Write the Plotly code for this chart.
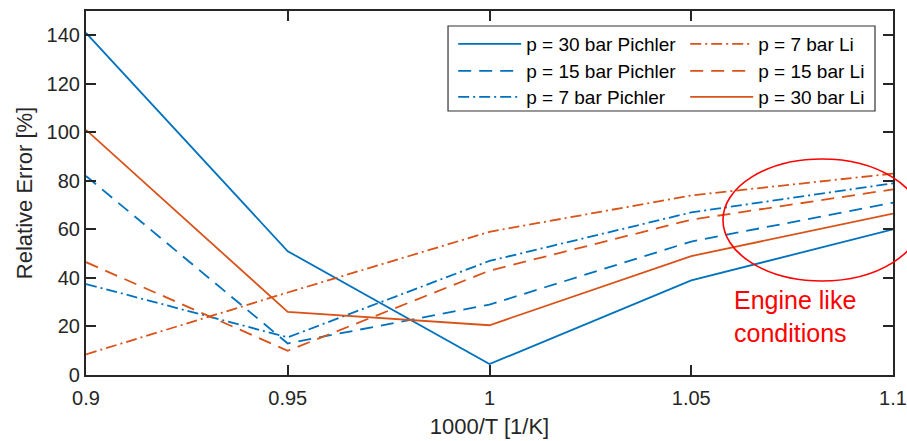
import plotly.graph_objects as go

x_vals = [0.9, 0.95, 1.0, 1.05, 1.1]

pichler_30 = [141, 51, 4.5, 39, 60]
pichler_15 = [82, 13, 29, 55, 71]
pichler_7 = [37.5, 15.5, 47, 67, 79]
li_7 = [8.5, 34, 59, 74, 83]
li_15 = [46.5, 10, 43, 64, 76.5]
li_30 = [101, 26, 20.5, 49, 66.5]

BLUE = "#0072BD"
ORANGE = "#D95319"
AX = "#262626"
FONT = "Liberation Sans, Arial, sans-serif"

DASH = "13px,8px"
DASHDOT = "11px,4px,2px,4px"

series = [
    ("p = 30 bar Pichler", pichler_30, BLUE, "solid", "legend"),
    ("p = 15 bar Pichler", pichler_15, BLUE, DASH, "legend2"),
    ("p = 7 bar Pichler", pichler_7, BLUE, DASHDOT, "legend3"),
    ("p = 7 bar Li", li_7, ORANGE, DASHDOT, "legend4"),
    ("p = 15 bar Li", li_15, ORANGE, DASH, "legend5"),
    ("p = 30 bar Li", li_30, ORANGE, "solid", "legend6"),
]

fig = go.Figure()
for name, ys, col, dash, lg in series:
    fig.add_trace(go.Scatter(x=x_vals, y=ys, name=name, mode="lines", legend=lg,
                             line=dict(color=col, width=1.8, dash=dash)))

axis_common = dict(
    showline=True, linecolor=AX, linewidth=2.2, mirror="ticks",
    ticks="inside", ticklen=10, tickwidth=2, tickcolor=AX,
    showgrid=False, zeroline=False, automargin=False,
    tickfont=dict(family=FONT, size=20, color=AX),
)

fig.update_xaxes(range=[0.9, 1.1], dtick=0.05, tick0=0.9, ticklabelstandoff=4,
                 title=dict(text="1000/T [1/K]", font=dict(family=FONT, size=22, color=AX), standoff=11),
                 **axis_common)
fig.update_yaxes(range=[0, 150], dtick=20, tick0=0,
                 title=dict(text="Relative Error [%]", font=dict(family=FONT, size=22, color=AX), standoff=8),
                 **axis_common)

# legend box
fig.add_shape(type="rect", xref="paper", yref="paper", x0=0.4486, x1=0.9777, y0=0.7253, y1=0.9588,
              line=dict(color="#333333", width=1.2), fillcolor="white", layer="above")

# ellipse marking engine-like conditions
fig.add_shape(type="circle", xref="paper", yref="paper", x0=0.7893, x1=1.0347, y0=0.2582, y1=0.5934,
              line=dict(color="#FF0000", width=1.6), layer="above")

fig.add_annotation(x=1.0601, y=24, xref="x", yref="y", text="Engine like<br>conditions",
                   showarrow=False, xanchor="left", yanchor="middle", align="left",
                   font=dict(family=FONT, size=25, color="#FF0000"))

legend_common = dict(xanchor="left", yanchor="top", bgcolor="rgba(0,0,0,0)", borderwidth=0,
                     font=dict(family=FONT, size=19, color="black"), itemwidth=63,
                     tracegroupgap=0, orientation="v")

row_y = [0.9615, 0.8874, 0.816]
col_x = [0.455, 0.7425]

fig.update_layout(
    width=907, height=441,
    margin=dict(l=86, r=14, t=11, b=66),
    plot_bgcolor="white", paper_bgcolor="white",
    showlegend=True,
    legend=dict(x=col_x[0], y=row_y[0], **legend_common),
    legend2=dict(x=col_x[0], y=row_y[1], **legend_common),
    legend3=dict(x=col_x[0], y=row_y[2], **legend_common),
    legend4=dict(x=col_x[1], y=row_y[0], **legend_common),
    legend5=dict(x=col_x[1], y=row_y[1], **legend_common),
    legend6=dict(x=col_x[1], y=row_y[2], **legend_common),
)

fig.write_html("out.html")
